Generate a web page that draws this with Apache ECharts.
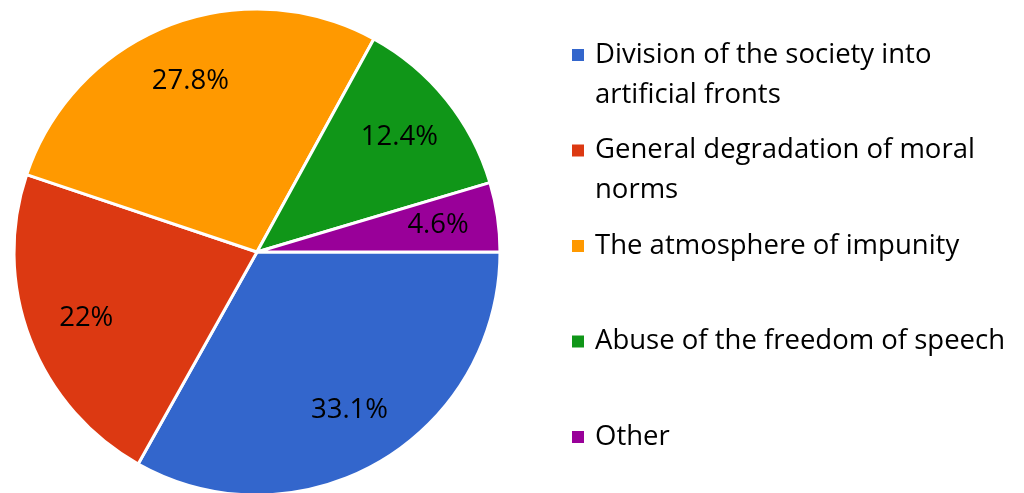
<!DOCTYPE html>
<html>
<head>
<meta charset="utf-8">
<script src="https://cdn.jsdelivr.net/npm/echarts@6/dist/echarts.min.js"></script>
<style>
html, body { margin: 0; padding: 0; background: #fff; }
#main { width: 1024px; height: 493px; }
</style>
</head>
<body>
<div id="main"></div>
<script>
// categories and shares (%)
var names = [
	'Division of the society into artificial fronts',
	'General degradation of moral norms',
	'The atmosphere of impunity',
	'Abuse of the freedom of speech',
	'Other'
];
var values = [33.1, 22, 27.8, 12.4, 4.6];
// legend text, wrapped as in the picture
var legendLines = [
	['Division of the society into', 'artificial fronts'],
	['General degradation of moral', 'norms'],
	['The atmosphere of impunity', ' '],
	['Abuse of the freedom of speech', ' '],
	['Other', ' ']
];
var colors = ['#3366cc', '#dc3912', '#ff9900', '#109618', '#990099'];

var font = 'Open Sans';
var lineH = 40;
var chart = echarts.init(document.getElementById('main'));

var pieData = names.map(function (n, i) {
	return { name: n, value: values[i] };
});

// one legend per entry; a blank first line keeps the marker on the first text line
var legends = names.map(function (n, i) {
	return {
		data: [n],
		orient: 'vertical',
		left: 570,
		top: 55 + i * 95.5 - lineH * 1.5,
		padding: 0,
		icon: 'rect',
		itemWidth: 14,
		itemHeight: 14,
		selectedMode: false,
		formatter: function () { return ' \n' + legendLines[i].join('\n'); },
		textStyle: {
			fontFamily: font,
			fontSize: 27.5,
			color: '#000',
			lineHeight: lineH,
			padding: [0, 0, 0, 5]
		}
	};
});

chart.setOption({
	backgroundColor: '#fff',
	color: colors,
	animation: false,
	legend: legends,
	series: [{
		type: 'pie',
		center: [257, 252],
		radius: [0, 243],
		startAngle: 0,
		clockwise: true,
		avoidLabelOverlap: false,
		itemStyle: { borderColor: '#fff', borderWidth: 3 },
		label: { show: false },
		labelLine: { show: false },
		emphasis: { disabled: true },
		data: pieData
	}, {
		// transparent ring that only carries the percentage labels
		type: 'pie',
		silent: true,
		center: [257, 252],
		radius: [117, 243],
		startAngle: 0,
		clockwise: true,
		avoidLabelOverlap: false,
		itemStyle: { color: 'rgba(0,0,0,0)' },
		label: {
			show: true,
			position: 'inside',
			fontFamily: font,
			fontSize: 27.5,
			color: '#000',
			formatter: function (p) { return p.value + '%'; }
		},
		labelLine: { show: false },
		emphasis: { disabled: true },
		data: pieData
	}]
});
</script>
</body>
</html>
